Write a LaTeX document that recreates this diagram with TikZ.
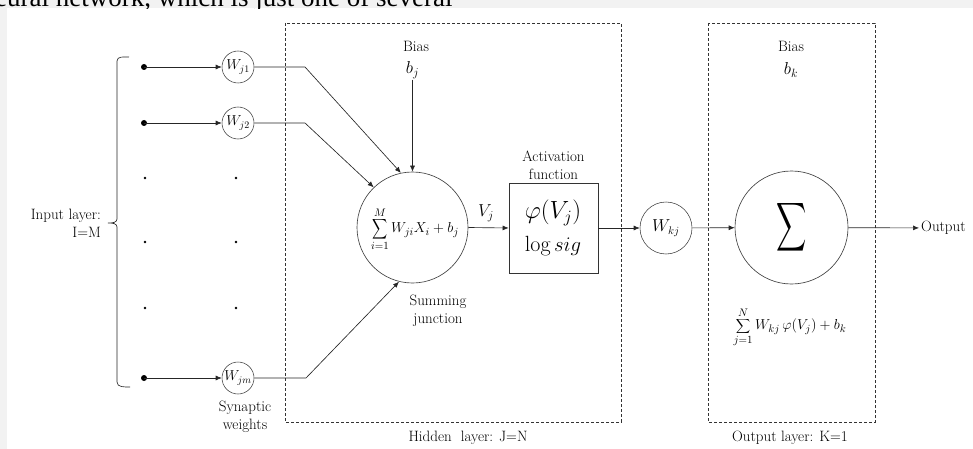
\documentclass[tikz,border=0pt]{standalone}
\usepackage{fontspec}
\usepackage{graphicx}
\newfontfamily\timesf{Liberation Serif}
\usetikzlibrary{arrows.meta}
\newcommand{\bigsumsym}{\mathop{\vcenter{\hbox{\scalebox{1.05}[1.4]{$\displaystyle\sum$}}}}}
\begin{document}
\begin{tikzpicture}[x=1pt,y=-1pt,
  line/.style={draw=black!85, line width=0.65pt},
  arr/.style={line, -{Latex[length=6pt,width=5pt]}},
  wcirc/.style={circle, draw=black!75, line width=0.55pt, minimum size=32pt, inner sep=0pt, font=\fontsize{14.5}{15}\selectfont},
  lbl/.style={font=\fontsize{15}{18}\selectfont, align=center, inner sep=1pt},
  layer/.style={draw=black!80, dash pattern=on 3pt off 2pt, line width=0.65pt},
  bigc/.style={circle, draw=black!75, line width=0.65pt, inner sep=0pt}]
\useasboundingbox (0,0) rectangle (973,449);
% page strips
\fill[gray!10] (0,0) rectangle (973,8.5);
\fill[gray!10] (0,0) rectangle (7,449);
\begin{scope}
  \clip (0,0) rectangle (973,9);
  \node[anchor=base west, inner sep=0pt, font=\timesf\fontsize{27}{27}\selectfont] (toptext) at (-5,7) {eural network, which is just one of several};
\end{scope}
% layer boxes
\draw[layer] (285,23) rectangle (621,422);
\draw[layer] (708,23) rectangle (875,422);
\node[lbl] (hidl) at (468,438) {Hidden\ \ layer: J=N};
\node[lbl] (outlbl) at (790,438) {Output layer: K=1};
% input bracket
\draw[line] (129,57) to[out=180,in=90] (117,61) -- (117,219) to[out=-90,in=0] (108,223) to[out=0,in=90] (117,227) -- (117,382) to[out=-90,in=180] (130,387);
\node[lbl, align=right, anchor=east] (inl) at (102,223) {Input layer:\\ I=M};
% inputs
\coordinate (x1) at (144,67);
\coordinate (x2) at (144,123);
\coordinate (xm) at (144,378);
\foreach \p in {x1,x2,xm} \fill[black] (\p) circle (3pt);
\node[wcirc] (w1) at (238,67) {$W_{j1}$};
\node[wcirc] (w2) at (238,123) {$W_{j2}$};
\node[wcirc] (wm) at (238,378) {$W_{jm}$};
\draw[arr] (x1) -- (w1);
\draw[arr] (x2) -- (w2);
\draw[arr] (xm) -- (wm);
\foreach \yy in {178,242,308} {
  \fill[black] (145,\yy) circle (1.4pt);
  \fill[black] (236,\yy) circle (1.4pt);
}
\node[lbl] (synl) at (245,417) {Synaptic\\ weights};
% summing junction
\node[bigc, minimum size=111pt] (sum) at (412.5,227.5) {};
\node[inner sep=0pt, font=\fontsize{15}{17}\selectfont] (sumf) at (415,229) {$\displaystyle\bigsumsym_{i=1}^{M} W_{ji}X_i + b_j$};
\node[lbl] (sumlbl) at (438,311) {Summing\\ junction};
\coordinate (k1) at (305,67);
\coordinate (k2) at (305,123);
\coordinate (km) at (306,378);
\draw[arr] (w1) -- (k1) -- (sum.102);
\draw[arr] (w2) -- (k2) -- (sum.134);
\draw[arr] (wm) -- (km) -- (sum.-104);
% bias j
\node[lbl] (biasj) at (416,46) {Bias};
\node[inner sep=1pt, font=\fontsize{18}{20}\selectfont] (bj) at (412.5,70) {$b_j$};
\draw[arr] (bj.south) -- (sum.north);
% activation
\node[draw=black!80, line width=0.65pt, minimum width=89pt, minimum height=90pt, inner sep=0pt] (act) at (553.5,228) {};
\node[inner sep=0pt, font=\fontsize{25}{30}\selectfont] (phi) at (553,213) {$\varphi(V_j)$};
\node[inner sep=0pt, font=\fontsize{22}{26}\selectfont] (lsig) at (553,246) {$\log sig$};
\node[lbl, anchor=south] (actl) at (553.5,181) {Activation\\ function};
\draw[arr] (sum.east) -- (act.west);
\node[font=\fontsize{17}{19}\selectfont, inner sep=0pt] (vj) at (486,213) {$V_j$};
% output weight
\node[wcirc, minimum size=52pt, font=\fontsize{16}{18}\selectfont] (wkj) at (666,228) {$W_{kj}$};
\draw[arr] (act.east) -- (wkj);
% output sum
\node[bigc, minimum size=113pt] (osum) at (791.5,227.5) {\scalebox{2.1}[3.4]{$\displaystyle\sum$}};
\draw[arr] (wkj) -- (osum);
\node[lbl] (biask) at (791,46) {Bias};
\node[inner sep=1pt, font=\fontsize{18}{20}\selectfont] (bk) at (791,70) {$b_k$};
\node[lbl, anchor=west, inner sep=2pt] (outp) at (919,228) {Output};
\draw[arr] (osum) -- (outp);
\node[font=\fontsize{15}{17}\selectfont, inner sep=0pt] (oform) at (790,327) {$\displaystyle\sum_{j=1}^{N} W_{kj}\,\varphi(V_j) + b_k$};
\end{tikzpicture}
\end{document}
